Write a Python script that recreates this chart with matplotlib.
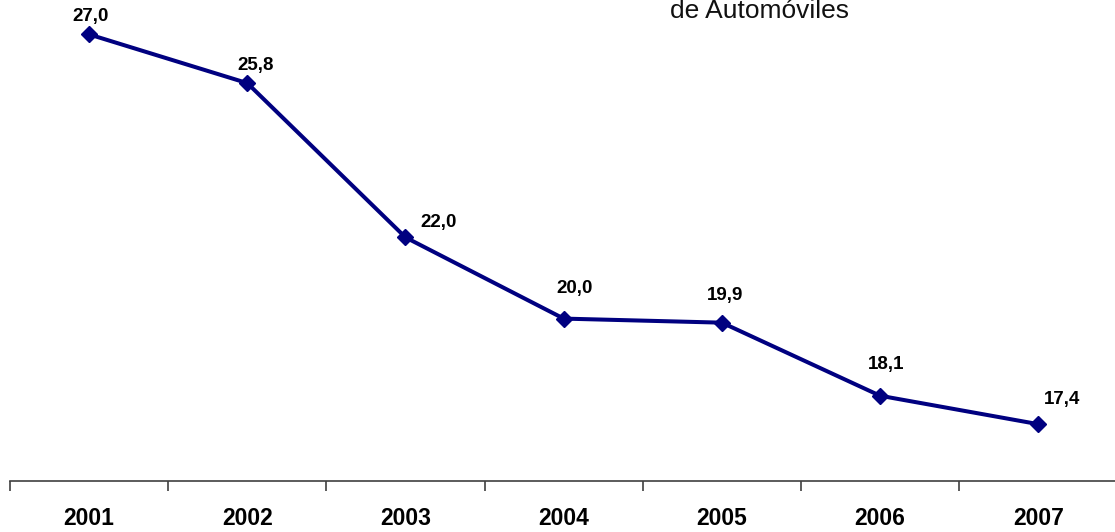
import matplotlib
matplotlib.use('Agg')
import matplotlib.pyplot as plt

# datos
years = ['2001', '2002', '2003', '2004', '2005', '2006', '2007']
values = [27.0, 25.8, 22.0, 20.0, 19.9, 18.1, 17.4]
value_labels = ['27,0', '25,8', '22,0', '20,0', '19,9', '18,1', '17,4']
title_text = 'de Automóviles'

# desplazamiento de las etiquetas (pixeles)
label_offsets = [(1, 18), (8, 18), (33, 15), (11, 30), (3, 27), (6, 31), (24, 25)]

plt.rcParams['font.family'] = ['Liberation Sans', 'DejaVu Sans']

W, H = 1115, 532
fig = plt.figure(figsize=(W / 100, H / 100), dpi=100)

# eje: izquierda en x=10, ancho de categoria ~158.2 px, base en y=481
cat_w = 158.2
left = 10 / W
width = 7 * cat_w / W
bottom = (H - 481) / H
top_h = 481 / H
ax = fig.add_axes([left, bottom, width, top_h])

x = list(range(len(years)))
ax.plot(x, values, color='#000080', lw=2.9, marker='D', markersize=8.5,
        markerfacecolor='#000080', markeredgecolor='#000080', clip_on=False)

for xi, v, lab, off in zip(x, values, value_labels, label_offsets):
    ax.annotate(lab, (xi, v), xytext=off, textcoords='offset pixels',
                ha='center', va='center', fontsize=13.5, fontweight='bold',
                color='black')

ax.set_xlim(-0.5, len(years) - 0.5)
ax.set_ylim(16, 16 + 481 / 40.6)

for s in ['top', 'right', 'left']:
    ax.spines[s].set_visible(False)
ax.spines['bottom'].set_color('#404040')
ax.spines['bottom'].set_linewidth(1.2)
ax.set_yticks([])

ax.set_xticks([i - 0.5 for i in range(len(years) + 1)], minor=False)
ax.set_xticklabels([])
ax.tick_params(axis='x', which='major', direction='out', length=7,
               width=1.2, color='#404040')
ax.set_xticks(x, minor=True)
ax.set_xticklabels(years, minor=True, fontsize=16.5, fontweight='bold')
ax.tick_params(axis='x', which='minor', length=0, pad=19)

fig.text(759 / W, 1 - 18 / H, title_text, ha='center', va='baseline',
         fontsize=19, color='#111111')

fig.savefig('out.png', dpi=100)
